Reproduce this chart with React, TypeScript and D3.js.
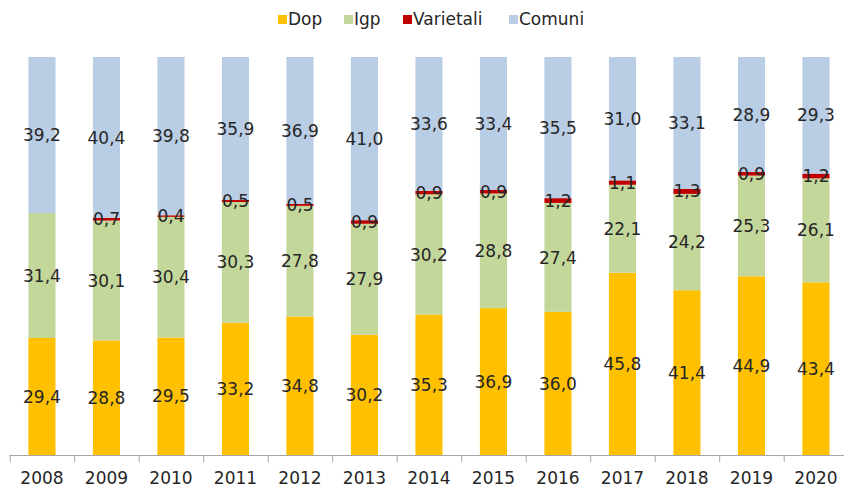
import React from "react";
import * as d3 from "d3";

const years = ["2008","2009","2010","2011","2012","2013","2014","2015","2016","2017","2018","2019","2020"];
const dop = [29.4,28.8,29.5,33.2,34.8,30.2,35.3,36.9,36.0,45.8,41.4,44.9,43.4];
const igp = [31.4,30.1,30.4,30.3,27.8,27.9,30.2,28.8,27.4,22.1,24.2,25.3,26.1];
const varietali = [0,0.7,0.4,0.5,0.5,0.9,0.9,0.9,1.2,1.1,1.3,0.9,1.2];
const comuni = [39.2,40.4,39.8,35.9,36.9,41.0,33.6,33.4,35.5,31.0,33.1,28.9,29.3];

const seriesNames = ["Dop","Igp","Varietali","Comuni"];
const seriesValues = [dop, igp, varietali, comuni];
const colors = ["#FFC000","#C4D79B","#C00000","#B9CDE5"];

const W = 844, H = 490;
const FONT = "DejaVu Sans, sans-serif";

export default function App() {
  const rows = years.map((y, i) => {
    const r: any = { year: y };
    seriesNames.forEach((s, k) => (r[s] = seriesValues[k][i]));
    return r;
  });
  const stack = d3.stack<any>().keys(seriesNames).offset(d3.stackOffsetExpand);
  const layers = stack(rows);
  const x = d3.scaleBand<string>().domain(years).range([9.7, 9.7 + 13 * 64.5]).paddingInner(0.58).paddingOuter(0.29);
  const band = d3.scaleBand<string>().domain(years).range([9.7, 9.7 + 13 * 64.5]);
  const y = d3.scaleLinear().domain([0, 1]).range([455, 57]);
  const fmt = (v: number) => v.toFixed(1).replace(".", ",");

  const legendX = [278, 344, 403, 509];

  return (
    <svg width={W} height={H} style={{ position: "absolute", left: 0, top: 0, background: "#fff" }}>
      {layers.map((layer, k) => (
        <g key={layer.key}>
          {layer.map((d, i) => (
            <rect key={i} x={x(years[i])} width={x.bandwidth()} y={y(d[1])} height={Math.max(0, y(d[0]) - y(d[1]))} fill={colors[k]} />
          ))}
        </g>
      ))}
      {layers.map((layer, k) => (
        <g key={"t" + layer.key}>
          {layer.map((d, i) => {
            const v = seriesValues[k][i];
            if (!v) return null;
            return (
              <text key={i} x={x(years[i])! + x.bandwidth() / 2} y={(y(d[0]) + y(d[1])) / 2} dy="0.36em" textAnchor="middle" fontFamily={FONT} fontSize={17} fill="#262626">
                {fmt(v)}
              </text>
            );
          })}
        </g>
      ))}
      <line x1={band.range()[0]} x2={W} y1={455.5} y2={455.5} stroke="#A6A6A6" strokeWidth={1} />
      {years.map((yr, i) => (
        <line key={"tk" + i} x1={band(yr)! + 0.5} x2={band(yr)! + 0.5} y1={455} y2={462} stroke="#A6A6A6" />
      ))}
      {years.map((yr) => (
        <text key={"yl" + yr} x={band(yr)! + band.bandwidth() / 2} y={484} textAnchor="middle" fontFamily={FONT} fontSize={17} fill="#262626">
          {yr}
        </text>
      ))}
      {seriesNames.map((s, k) => (
        <g key={"lg" + s}>
          <rect x={legendX[k]} y={15} width={9} height={9} fill={colors[k]} />
          <text x={legendX[k] + 10} y={25} fontFamily={FONT} fontSize={17} fill="#262626">{s}</text>
        </g>
      ))}
    </svg>
  );
}
